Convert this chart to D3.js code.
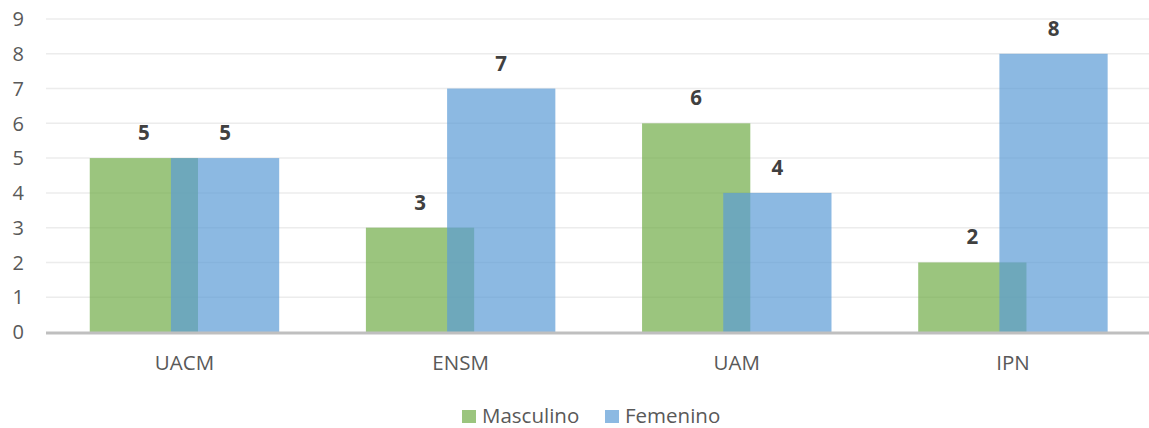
<!DOCTYPE html>
<html><head><meta charset="utf-8">
<script src="https://cdn.jsdelivr.net/npm/d3@7"></script>
<style>body{margin:0;background:#fff}svg{display:block}</style>
</head><body>
<script>
const categories = ["UACM", "ENSM", "UAM", "IPN"];
const masculino = [5, 3, 6, 2];
const femenino = [5, 7, 4, 8];
const seriesNames = ["Masculino", "Femenino"];
const seriesColors = ["#70AD47", "#5B9BD5"];
const yTicks = [0,1,2,3,4,5,6,7,8,9];

const W = 1149, H = 428;
const m = {left: 46, right: 0, top: 19, bottom: 96};
const svg = d3.select("body").append("svg").attr("width", W).attr("height", H);
const font = "'Open Sans', 'Liberation Sans', sans-serif";

const x = d3.scaleBand().domain(categories).range([46.4, 1151]).paddingInner(0).paddingOuter(0);
const y = d3.scaleLinear().domain([0, 9]).range([H - m.bottom, m.top]);

// gridlines
svg.append("g").selectAll("line").data(yTicks.slice(1)).join("line")
  .attr("x1", m.left).attr("x2", W - m.right)
  .attr("y1", d => y(d)).attr("y2", d => y(d))
  .attr("stroke", "#ECECEC").attr("stroke-width", 1.5);

// y tick labels
svg.append("g").selectAll("text").data(yTicks).join("text")
  .attr("x", 24).attr("y", d => y(d)).attr("dy", "0.36em")
  .attr("text-anchor", "end").attr("font-family", font).attr("font-size", 20)
  .attr("fill", "#595959").text(d => d);

// bars
const bw = x.bandwidth() * 0.392;
const overlap = bw * 0.25;
const groupW = bw * 2 - overlap;
const series = [masculino, femenino];
series.forEach((vals, si) => {
  const g = svg.append("g");
  g.selectAll("rect").data(categories).join("rect")
    .attr("x", (c) => x(c) + x.bandwidth()/2 - groupW/2 + si * (bw - overlap))
    .attr("width", bw)
    .attr("y", (c, i) => y(vals[i]))
    .attr("height", (c, i) => y(0) - y(vals[i]))
    .attr("fill", seriesColors[si]).attr("fill-opacity", 0.7);
});
// labels
series.forEach((vals, si) => {
  svg.append("g").selectAll("text").data(categories).join("text")
    .attr("x", (c) => x(c) + x.bandwidth()/2 - groupW/2 + si * (bw - overlap) + bw/2)
    .attr("y", (c, i) => y(vals[i]) - 18)
    .attr("text-anchor", "middle").attr("font-family", font).attr("font-weight", "bold")
    .attr("font-size", 20.5).attr("fill", "#404040")
    .text((c, i) => vals[i]);
});

// x axis line
svg.append("line").attr("x1", m.left).attr("x2", W - m.right)
  .attr("y1", y(0) + 1).attr("y2", y(0) + 1)
  .attr("stroke", "#BFBFBF").attr("stroke-width", 3);

// x labels
svg.append("g").selectAll("text").data(categories).join("text")
  .attr("x", c => x(c) + x.bandwidth()/2).attr("y", 370)
  .attr("text-anchor", "middle").attr("font-family", font).attr("font-size", 20.5)
  .attr("fill", "#595959").text(c => c);

// legend
const legX = [462, 605];
seriesNames.forEach((n, i) => {
  svg.append("rect").attr("x", legX[i]).attr("y", 410).attr("width", 14).attr("height", 13)
    .attr("fill", seriesColors[i]).attr("fill-opacity", 0.7);
  svg.append("text").attr("x", legX[i] + 20).attr("y", 423)
    .attr("font-family", font).attr("font-size", 20.5).attr("fill", "#595959").text(n);
});
</script>
</body></html>
